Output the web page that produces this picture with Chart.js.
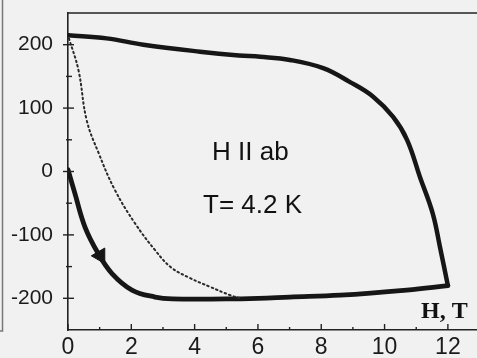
<!DOCTYPE html>
<html>
<head>
	<title>H II ab, T = 4.2 K</title>
	<script src="https://cdn.jsdelivr.net/npm/chart.js"></script>
	<style type="text/css">
		body {
			margin: 0;
			padding: 0;
			background: #f1f1f1;
		}
		canvas {
			display: block;
		}
	</style>
</head>
<body>
	<canvas id="chart" width="477" height="358"></canvas>

	<script>
		// axis ticks
		var xTicks = [0, 2, 4, 6, 8, 10, 12];
		var xMinor = [1, 3, 5, 7, 9, 11];
		var yTicks = [-200, -100, 0, 100, 200];
		var yMinor = [-150, -50, 50, 150];

		// loop, lower branch: from 0 down to saturation, then along the bottom to 12 T
		var downH = [0, 0.22, 0.54, 0.95, 1.39, 2.02, 2.75, 3.3, 5.0, 6.0, 7.0, 8.6, 10.7, 12.0];
		var downM = [3, -35, -88, -129, -161, -187, -198, -201, -201, -200, -198, -195, -187, -180];

		// loop, upper branch: from 12 T back to 0
		var upH = [12.0, 11.75, 11.52, 11.12, 10.71, 10.27, 9.64, 8.91, 8.06, 7.01, 6.07, 5.4, 4.17, 2.38, 1.22, 0];
		var upM = [-180, -119, -66, -9, 50, 86, 118, 141, 163, 176, 181, 183, 189, 200, 210, 215];

		// dotted curve
		var dotH = [0.03, 0.33, 0.59, 0.96, 1.48, 2.12, 2.75, 3.25, 3.85, 4.49, 5.12, 5.45];
		var dotM = [210, 160, 81, 30, -29, -82, -124, -151, -168, -182, -195, -200];

		// arrow on the lower branch
		var arrowH = [1.02];
		var arrowM = [-133];

		function pts(xs, ys) {
			return xs.map(function(x, i) { return { x: x, y: ys[i] }; });
		}

		var ink = '#161616';
		var sans = 'Liberation Sans, Arial, sans-serif';

		// frame, minor ticks, labels
		var decor = {
			id: 'decor',
			beforeDraw: function(chart) {
				var c = chart.ctx;
				c.save();
				c.fillStyle = '#f1f1f1';
				c.fillRect(0, 0, chart.width, chart.height);
				c.restore();
			},
			afterDraw: function(chart) {
				var c = chart.ctx, a = chart.chartArea;
				var xs = chart.scales.x, ys = chart.scales.y;
				c.save();
				c.strokeStyle = '#222';
				c.lineWidth = 1.5;
				// top line of the frame
				c.beginPath();
				c.moveTo(a.left, a.top);
				c.lineTo(a.right, a.top);
				c.stroke();
				// edge of the scanned page
				c.strokeStyle = '#777';
				c.beginPath();
				c.moveTo(2.5, 0);
				c.lineTo(2.5, 331);
				c.lineTo(0, 331);
				c.stroke();

				// x ticks point inwards
				c.strokeStyle = '#222';
				c.lineWidth = 1.4;
				xTicks.forEach(function(v) {
					var p = xs.getPixelForValue(v);
					c.beginPath(); c.moveTo(p, a.bottom); c.lineTo(p, a.bottom - 6); c.stroke();
				});
				xMinor.forEach(function(v) {
					var p = xs.getPixelForValue(v);
					c.beginPath(); c.moveTo(p, a.bottom); c.lineTo(p, a.bottom - 3); c.stroke();
				});
				// y ticks cross the axis
				yTicks.forEach(function(v) {
					var p = ys.getPixelForValue(v);
					c.beginPath(); c.moveTo(a.left - 5, p); c.lineTo(a.left + 6, p); c.stroke();
				});
				yMinor.forEach(function(v) {
					var p = ys.getPixelForValue(v);
					c.beginPath(); c.moveTo(a.left - 2, p); c.lineTo(a.left + 4, p); c.stroke();
				});

				// annotations
				c.fillStyle = '#111';
				c.textAlign = 'left';
				c.textBaseline = 'alphabetic';
				c.font = '26px ' + sans;
				c.fillText('H II ab', 212, 160);
				c.fillText('T= 4.2 K', 203, 213);
				c.font = 'bold 24px Liberation Serif, Times New Roman, serif';
				c.fillText('H, T', 421, 318);
				c.restore();
			}
		};

		var ctx = document.getElementById('chart').getContext('2d');
		var chart = new Chart(ctx, {
			type: 'scatter',
			data: {
				datasets: [{
					data: pts(dotH, dotM),
					showLine: true,
					borderColor: '#2a2a2a',
					borderWidth: 2,
					borderDash: [1.5, 3.2],
					borderCapStyle: 'round',
					tension: 0.4,
					pointRadius: 0
				}, {
					data: pts(downH, downM),
					showLine: true,
					borderColor: ink,
					borderWidth: 4.8,
					borderCapStyle: 'round',
					borderJoinStyle: 'round',
					tension: 0.4,
					pointRadius: 0
				}, {
					data: pts(upH, upM),
					showLine: true,
					borderColor: ink,
					borderWidth: 4.5,
					borderCapStyle: 'round',
					borderJoinStyle: 'round',
					tension: 0.4,
					pointRadius: 0
				}, {
					data: pts(arrowH, arrowM),
					showLine: false,
					pointStyle: 'triangle',
					pointRadius: 9,
					rotation: 150,
					backgroundColor: ink,
					borderColor: ink,
					borderWidth: 1
				}]
			},
			options: {
				responsive: false,
				animation: false,
				events: [],
				layout: { autoPadding: false, padding: { top: 13, left: 0, right: 0, bottom: 0 } },
				plugins: {
					legend: { display: false },
					tooltip: { enabled: false }
				},
				scales: {
					x: {
						type: 'linear',
						min: 0,
						max: 12.92,
						afterBuildTicks: function(s) { s.ticks = xTicks.map(function(v) { return { value: v }; }); },
						afterFit: function(s) {
							s.height = 28;
							s.paddingLeft = 0;
							s.paddingRight = 0;
						},
						grid: { display: false, drawTicks: false },
						border: { display: true, color: '#222', width: 1.6 },
						ticks: {
							padding: 4,
							maxRotation: 0,
							color: '#1a1a1a',
							font: { family: sans, size: 23 }
						}
					},
					y: {
						type: 'linear',
						min: -250,
						max: 250,
						afterBuildTicks: function(s) { s.ticks = yTicks.map(function(v) { return { value: v }; }); },
						afterFit: function(s) {
							s.width = 68;
							s.paddingTop = 0;
							s.paddingBottom = 0;
						},
						grid: { display: false, drawTicks: false },
						border: { display: true, color: '#222', width: 1.6 },
						ticks: {
							padding: 15,
							color: '#1a1a1a',
							font: { family: sans, size: 21 }
						}
					}
				}
			},
			plugins: [decor]
		});
	</script>
</body>
</html>
